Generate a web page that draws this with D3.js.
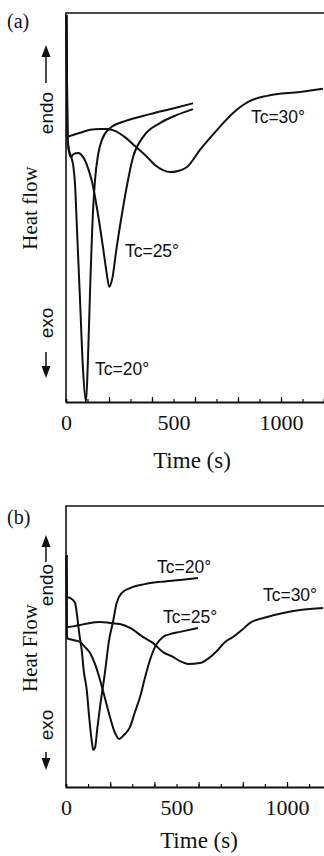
<!DOCTYPE html>
<html>
<head>
<meta charset="utf-8">
<script src="https://cdn.jsdelivr.net/npm/d3@7"></script>
<style>
  body { margin: 0; background: #fff; }
  svg { display: block; }
  .serif { font-family: "Liberation Serif", "DejaVu Serif", serif; fill: #111; }
  .sans { font-family: "Liberation Sans", Arial, sans-serif; fill: #111; }
</style>
</head>
<body>
<div id="chart"></div>
<script>
// ---- data, [time (s), heat flow (arb. units 0-100)] ----
var aTc20 = [[2,99.5],[7,68.1],[14,64.8],[23,63.2],[33,61],[42,56],[51,44.5],[65,26.5],[79,8.5],[93,0],[102,10.8],[112,28.8],[126,49.4],[135,57.1],[149,63.5],[167,67.4],[205,70.4],[274,72.2],[391,74.0],[507,75.6],[591,76.8]];
var aTc25 = [[2,99.5],[7,68.1],[14,64.3],[23,63.0],[37,63.8],[56,64.0],[79,63.0],[102,60.2],[121,56.6],[143,50.2],[172,39.8],[189,33.2],[201,29.6],[214,31.4],[236,39.9],[266,50.2],[284,55.8],[312,63.0],[358,68.1],[437,71.7],[516,73.8],[591,75.3]];
var aTc30 = [[2,99.5],[7,68.1],[19,68.4],[65,69.2],[112,70.0],[158,70.2],[191,70.2],[228,69.7],[274,68.1],[321,65.8],[377,63.0],[414,60.9],[451,59.6],[484,59.1],[521,59.4],[563,60.4],[623,64.8],[702,69.9],[777,74.3],[856,77.4],[935,78.7],[1088,79.7],[1195,80.5]];

var bTc20 = [[2,82.6],[4.5,67.6],[18,67.3],[32,66.5],[41,65.5],[50,61.2],[59,55.2],[71,48.8],[81,40.9],[94,34.5],[104,25.6],[116,16.7],[123,13.2],[131,13.9],[142,21.0],[154,28.5],[176,40.6],[195,52.3],[213,58.9],[229,65.5],[252,69.0],[290,70.8],[357,72.2],[425,73.0],[516,73.7],[597,74.4]];
var bTc25 = [[2,82.6],[4.5,53.0],[32,52.3],[63,51.6],[86,49.8],[109,47.7],[131,43.8],[154,38.1],[176,31.7],[199,24.9],[222,19.2],[241,17.1],[262,18.5],[290,21.4],[312,26.7],[335,32.0],[357,38.8],[380,45.2],[407,50.5],[439,53.4],[471,54.4],[516,55.2],[597,56.6]];
var bTc30 = [[2,82.6],[4.5,56.9],[41,57.3],[86,58.0],[154,58.7],[199,58.4],[244,58.0],[290,56.6],[348,53.4],[394,51.2],[439,48.0],[484,46.3],[516,44.8],[552,43.8],[606,44.1],[642,45.6],[683,48.4],[720,51.6],[756,53.4],[796,55.9],[833,58.4],[910,60.5],[982,61.9],[1059,63.0],[1163,63.7]];

var minorTicks = [0,100,200,300,400,500,600,700,800,900,1000,1100,1200];
var majorTicks = [200,400,600,800,1000,1200];
var tickLabels = [0,500,1000];

// text labels for each panel: [text, time, flow]
var aLabels = [["Tc=30°", 860, 71.7], ["Tc=25°", 274, 37.3], ["Tc=20°", 135, 6.9]];
var bLabels = [["Tc=20°", 412, 76.2], ["Tc=25°", 439, 58.4], ["Tc=30°", 891, 66.2]];

var W = 324, H = 856;
var svg = d3.select("#chart").append("svg").attr("width", W).attr("height", H);

function drawPanel(opt) {
    var x = d3.scaleLinear().domain([0, 1200]).range([66, 66 + opt.pxPerSec * 1200]);
    var y = d3.scaleLinear().domain([0, 100]).range([opt.bottom, opt.top]);
    var g = svg.append("g");

    // curves
    var line = d3.line()
        .x(function(d) { return x(d[0]); })
        .y(function(d) { return y(d[1]); })
        .curve(d3.curveMonotoneX);
    opt.series.forEach(function(s) {
        g.append("path").datum(s)
            .attr("d", line)
            .attr("fill", "none")
            .attr("stroke", "#111")
            .attr("stroke-width", 2)
            .attr("stroke-linejoin", "round");
    });

    // frame (left, top) ; right side runs off the picture
    g.append("path")
        .attr("d", "M" + x(1200) + "," + y(100) + "H" + x(0) + "V" + y(0))
        .attr("fill", "none").attr("stroke", "#111").attr("stroke-width", 1.6);

    // x axis, ticks pointing inward
    var ax = g.append("g").attr("transform", "translate(0," + opt.bottom + ")");
    ax.call(d3.axisBottom(x).tickValues(minorTicks).tickSize(-3).tickFormat(""));
    ax.append("g").call(d3.axisBottom(x).tickValues(majorTicks).tickSize(-5).tickFormat(""));
    ax.selectAll(".domain").attr("stroke", "#111").attr("stroke-width", 1.8);
    ax.selectAll(".tick line").attr("stroke", "#111").attr("stroke-width", 1.2);
    ax.selectAll(".domain").filter(function(d, i) { return i > 0; }).remove();

    var lab = g.append("g").attr("transform", "translate(0," + opt.bottom + ")")
        .call(d3.axisBottom(x).tickValues(tickLabels).tickSize(0).tickPadding(0)
            .tickFormat(d3.format("d")));
    lab.select(".domain").remove();
    lab.selectAll("text")
        .attr("y", 28).attr("dy", 0)
        .style("font-family", "'Liberation Serif', 'DejaVu Serif', serif")
        .style("font-size", "22px")
        .attr("fill", "#111");

    g.append("text").attr("class", "serif")
        .attr("x", opt.titleX).attr("y", opt.bottom + opt.titleDy)
        .attr("text-anchor", "middle")
        .style("font-size", "23px")
        .text("Time (s)");

    // panel letter
    g.append("text").attr("class", "serif")
        .attr("x", 7).attr("y", opt.letterY)
        .style("font-size", "20px")
        .text(opt.letter);

    // y labels
    g.append("text").attr("class", "serif")
        .attr("transform", "translate(37," + opt.heatY + ") rotate(-90)")
        .attr("text-anchor", "middle")
        .style("font-size", "21px")
        .text(opt.heatText);
    g.append("text").attr("class", "sans")
        .attr("transform", "translate(53," + opt.endoY + ") rotate(-90)")
        .attr("text-anchor", "middle")
        .style("font-size", "19px")
        .text("endo");
    g.append("text").attr("class", "sans")
        .attr("transform", "translate(53," + opt.exoY + ") rotate(-90)")
        .attr("text-anchor", "middle")
        .style("font-size", "19px")
        .text("exo");

    // arrows
    var ar = opt.arrows;
    g.append("line").attr("x1", 46).attr("x2", 46).attr("y1", ar.upTail).attr("y2", ar.upTip + 8)
        .attr("stroke", "#111").attr("stroke-width", 1.5);
    g.append("path").attr("d", "M46," + ar.upTip + "L41.5," + (ar.upTip + 12) + "L50.5," + (ar.upTip + 12) + "Z")
        .attr("fill", "#111");
    g.append("line").attr("x1", 46).attr("x2", 46).attr("y1", ar.downTail).attr("y2", ar.downTip - 8)
        .attr("stroke", "#111").attr("stroke-width", 1.5);
    g.append("path").attr("d", "M46," + ar.downTip + "L41.5," + (ar.downTip - 12) + "L50.5," + (ar.downTip - 12) + "Z")
        .attr("fill", "#111");

    // Tc labels
    opt.labels.forEach(function(l) {
        g.append("text").attr("class", "sans")
            .attr("x", x(l[1])).attr("y", y(l[2]))
            .style("font-size", "17.5px")
            .text(l[0]);
    });
}

drawPanel({
    top: 13, bottom: 402, pxPerSec: 0.215,
    series: [aTc20, aTc25, aTc30], labels: aLabels,
    letter: "(a)", letterY: 28, titleX: 192, titleDy: 66,
    heatText: "Heat flow", heatY: 208, endoY: 113, exoY: 323,
    arrows: { upTip: 45, upTail: 83, downTail: 352, downTip: 378 }
});
drawPanel({
    top: 506, bottom: 787, pxPerSec: 0.221,
    series: [bTc20, bTc25, bTc30], labels: bLabels,
    letter: "(b)", letterY: 524, titleX: 199, titleDy: 61,
    heatText: "Heat Flow", heatY: 648, endoY: 585, exoY: 725,
    arrows: { upTip: 535, upTail: 562, downTail: 752, downTip: 770 }
});
</script>
</body>
</html>
